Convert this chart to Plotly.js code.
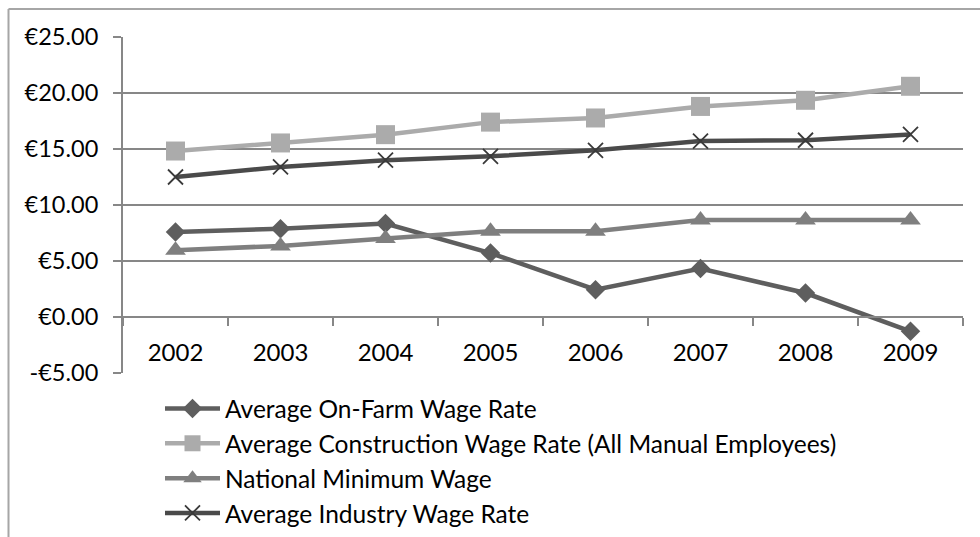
<!DOCTYPE html>
<html>
<head>
<meta charset="utf-8">
<script src="https://cdn.plot.ly/plotly-3.0.1.min.js"></script>
<style>
html,body{margin:0;padding:0;background:#fff;}
#chart{width:980px;height:537px;}
</style>
</head>
<body>
<div id="chart"></div>
<script>
var years = ['2002','2003','2004','2005','2006','2007','2008','2009'];
var onFarm = [7.59, 7.89, 8.34, 5.71, 2.44, 4.32, 2.14, -1.28];
var construction = [14.82, 15.54, 16.28, 17.40, 17.77, 18.80, 19.35, 20.60];
var minimumWage = [5.97, 6.35, 7.00, 7.65, 7.65, 8.65, 8.65, 8.65];
var industry = [12.50, 13.40, 14.00, 14.35, 14.88, 15.71, 15.78, 16.30];
var seriesNames = [
  'Average On-Farm Wage Rate',
  'Average Construction Wage Rate (All Manual Employees)',
  'National Minimum Wage',
  'Average Industry Wage Rate'
];
var yTickVals = [-5, 0, 5, 10, 15, 20, 25];
var yTickText = ['-€5.00', '€0.00', '€5.00', '€10.00', '€15.00', '€20.00', '€25.00'];

var gridColor = '#878787';
var FONT = 'Lato, "Open Sans", sans-serif';

var traces = [
  {x: years, y: onFarm, name: seriesNames[0], mode: 'lines+markers', type: 'scatter',
   line: {color: '#5e5e5e', width: 4.5},
   marker: {symbol: 'diamond', size: 15, color: '#5e5e5e'}},
  {x: years, y: construction, name: seriesNames[1], mode: 'lines+markers', type: 'scatter',
   line: {color: '#ababab', width: 4.5},
   marker: {symbol: 'square', size: 19, color: '#ababab'}},
  {x: years, y: minimumWage, name: seriesNames[2], mode: 'lines+markers', type: 'scatter',
   line: {color: '#7f7f7f', width: 4.5},
   marker: {symbol: 'triangle-up', size: 18, color: '#7f7f7f'}},
  {x: years, y: industry, name: seriesNames[3], mode: 'lines+markers', type: 'scatter',
   line: {color: '#4a4a4a', width: 4.5},
   marker: {symbol: 'x-thin', size: 15, color: '#3a3a3a', line: {color: '#3a3a3a', width: 1.8}}}
];

var L = 123, R = 963, T = 37, B = 373;
var W = 980, H = 537;
var pw = R - L, ph = B - T;
function px(x){ return (x - L) / pw; }
function py(y){ return (B - y) / ph; }

var layout = {
  width: W, height: H,
  margin: {l: L, r: W - R, t: T, b: H - B, pad: 0, autoexpand: false},
  paper_bgcolor: '#ffffff',
  plot_bgcolor: '#ffffff',
  font: {family: FONT, size: 22, color: '#000'},
  showlegend: true,
  legend: {
    xref: 'container', yref: 'container',
    x: 160 / W, y: 1 - 386 / H, xanchor: 'left', yanchor: 'top',
    font: {family: FONT, size: 24.5, color: '#000'},
    itemwidth: 55, tracegroupgap: 0,
    bgcolor: 'rgba(0,0,0,0)'
  },
  xaxis: {
    type: 'category',
    range: [-0.5, 7.5],
    anchor: 'free', position: 5/30,
    showline: true, linecolor: gridColor, linewidth: 2,
    showgrid: false, zeroline: false,
    ticks: 'outside', ticklen: 8, tickwidth: 2, tickcolor: gridColor,
    tickson: 'boundaries',
    tickfont: {family: FONT, size: 24, color: '#000'},
    ticklabelstandoff: 14,
    automargin: false,
    fixedrange: true
  },
  yaxis: {
    range: [-5, 25],
    domain: [0, 1],
    tickvals: yTickVals, ticktext: yTickText,
    showline: true, linecolor: gridColor, linewidth: 2,
    showgrid: true, gridcolor: gridColor, gridwidth: 2,
    zeroline: false,
    ticks: 'outside', ticklen: 8, tickwidth: 2, tickcolor: gridColor,
    tickfont: {family: FONT, size: 23.5, color: '#000'},
    ticklabelstandoff: 10,
    automargin: false,
    fixedrange: true
  },
  shapes: [
    {type: 'line', xref: 'paper', yref: 'paper', x0: px(8.5), x1: px(8.5), y0: py(560), y1: py(9),
     line: {color: '#a6a6a6', width: 2}},
    {type: 'line', xref: 'paper', yref: 'paper', x0: px(8.5), x1: px(1000), y0: py(9), y1: py(9),
     line: {color: '#a6a6a6', width: 2}}
  ]
};

Plotly.newPlot('chart', traces, layout, {displayModeBar: false, staticPlot: true});
</script>
</body>
</html>
